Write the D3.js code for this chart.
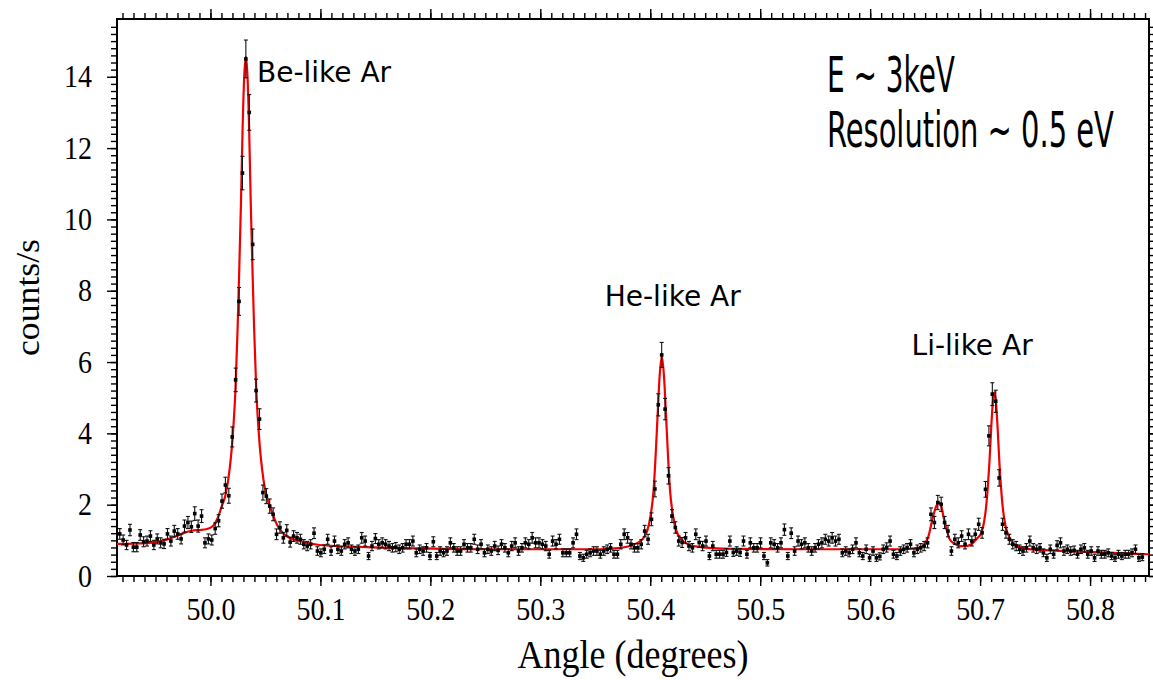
<!DOCTYPE html>
<html>
<head>
<meta charset="utf-8">
<script src="https://cdn.jsdelivr.net/npm/d3@7"></script>
<style>
  body { margin: 0; background: #fff; }
  svg { display: block; }
  .axis text { font-family: "Liberation Serif", "Times New Roman", serif; font-size: 28px; fill: #000; }
  .axis line { stroke: #000; stroke-width: 1.4; }
</style>
</head>
<body>
<script>
// scan grid (degrees)
var angleStart = 49.9175;
var angleStep = 0.0031;

// measured rate (counts/s), one value per scan step
var counts = [
  1.18, 1.01, 0.87, 1.29, 0.81, 0.81, 1.15, 0.96, 0.98, 1.12,
  0.87, 1.04, 0.93, 0.90, 1.18, 0.98, 1.26, 1.18, 1.04, 1.40,
  1.50, 1.38, 1.75, 1.40, 1.68, 0.93, 1.04, 1.01, 1.33, 1.55,
  2.10, 2.55, 2.25, 3.90, 5.50, 7.70, 11.30, 14.50, 13.00, 9.30,
  5.20, 4.40, 2.34, 2.24, 1.96, 1.73, 1.17, 1.36, 1.07, 1.28,
  0.95, 1.12, 1.07, 1.03, 0.89, 0.84, 0.89, 1.20, 0.70, 0.65,
  0.75, 1.03, 0.70, 0.98, 0.75, 0.70, 0.89, 0.93, 0.75, 0.70,
  0.75, 1.07, 0.98, 0.56, 0.84, 1.05, 0.89, 0.93, 0.89, 0.84,
  0.79, 0.81, 0.75, 0.79, 0.89, 0.89, 0.98, 0.65, 0.75, 0.70,
  0.79, 0.56, 0.96, 0.56, 0.70, 0.65, 0.70, 0.93, 0.79, 0.70,
  0.70, 0.89, 0.79, 0.79, 1.03, 0.75, 0.89, 0.65, 0.75, 0.70,
  0.84, 0.72, 0.89, 0.79, 0.65, 0.84, 0.93, 0.70, 0.79, 0.93,
  0.89, 1.07, 0.93, 0.93, 0.89, 0.84, 0.61, 0.98, 0.89, 1.03,
  0.65, 0.65, 0.65, 0.93, 1.17, 0.56, 0.51, 0.61, 0.65, 0.70,
  0.70, 0.61, 0.70, 0.75, 0.79, 0.61, 0.61, 0.89, 1.17, 1.07,
  0.89, 0.79, 0.79, 0.89, 1.26, 1.03, 1.59, 2.44, 4.80, 6.20,
  4.68, 2.81, 1.68, 1.36, 0.98, 0.94, 1.07, 0.84, 0.79, 1.17,
  0.94, 0.84, 0.98, 0.56, 0.84, 0.61, 0.61, 0.61, 0.66, 0.98,
  0.66, 0.70, 0.66, 0.98, 0.61, 0.93, 0.79, 0.79, 0.93, 0.56,
  0.37, 0.93, 0.89, 0.79, 0.93, 1.30, 0.56, 1.20, 0.70, 0.98,
  0.89, 0.93, 0.79, 0.70, 0.79, 0.89, 0.93, 1.03, 0.98, 1.07,
  0.98, 1.03, 0.65, 0.70, 0.65, 0.75, 0.93, 0.65, 0.56, 0.75,
  0.51, 0.70, 0.51, 0.55, 0.75, 0.80, 0.98, 0.61, 0.56, 0.70,
  0.75, 0.79, 0.89, 0.65, 0.75, 0.79, 0.84, 0.93, 1.73, 1.50,
  2.06, 2.01, 1.50, 1.26, 0.70, 1.03, 0.93, 1.12, 0.89, 1.17,
  0.98, 1.17, 1.45, 1.21, 2.43, 3.93, 5.10, 4.90, 2.75, 1.45,
  1.21, 1.03, 0.89, 0.84, 0.75, 0.70, 0.79, 0.98, 0.79, 0.75,
  0.79, 0.65, 0.51, 0.75, 0.61, 0.86, 0.93, 0.70, 0.75, 0.70,
  0.72, 0.61, 0.75, 0.79, 0.61, 0.70, 0.51, 0.70, 0.61, 0.61,
  0.65, 0.56, 0.51, 0.61, 0.56, 0.61, 0.61, 0.65, 0.75, 0.51,
  0.53
];

// half length of each error bar (counts/s)
var countErr = [
  .15, .14, .13, .16, .13, .13, .15, .14, .14, .15,
  .13, .14, .14, .13, .15, .14, .16, .15, .14, .17,
  .17, .16, .19, .17, .18, .14, .14, .14, .16, .17,
  .20, .22, .21, .28, .33, .39, .47, .53, .50, .43,
  .32, .29, .21, .21, .20, .18, .15, .16, .15, .16,
  .14, .15, .15, .14, .13, .13, .13, .15, .12, .11,
  .12, .14, .12, .14, .12, .12, .13, .14, .12, .12,
  .12, .15, .14, .10, .13, .14, .13, .14, .13, .13,
  .12, .13, .12, .12, .13, .13, .14, .11, .12, .12,
  .12, .10, .14, .10, .12, .11, .12, .14, .12, .12,
  .12, .13, .12, .12, .14, .12, .13, .11, .12, .12,
  .13, .12, .13, .12, .11, .13, .14, .12, .12, .14,
  .13, .15, .14, .14, .13, .13, .11, .14, .13, .14,
  .11, .11, .11, .14, .15, .10, .10, .11, .11, .12,
  .12, .11, .12, .12, .12, .11, .11, .13, .15, .15,
  .13, .12, .12, .13, .16, .14, .18, .22, .31, .35,
  .30, .23, .18, .16, .14, .14, .15, .13, .12, .15,
  .14, .13, .14, .10, .13, .11, .11, .11, .11, .14,
  .11, .12, .11, .14, .11, .14, .12, .12, .14, .10,
  .09, .14, .13, .12, .14, .16, .10, .15, .12, .14,
  .13, .14, .12, .12, .12, .13, .14, .14, .14, .15,
  .14, .14, .11, .12, .11, .12, .14, .11, .10, .12,
  .10, .12, .10, .10, .12, .13, .14, .11, .10, .12,
  .12, .12, .13, .11, .12, .12, .13, .14, .18, .17,
  .20, .20, .17, .16, .12, .14, .14, .15, .13, .15,
  .14, .15, .17, .15, .22, .28, .32, .31, .23, .17,
  .15, .14, .13, .13, .12, .12, .12, .14, .12, .12,
  .12, .11, .10, .12, .11, .13, .14, .12, .12, .12,
  .12, .11, .12, .12, .11, .12, .10, .12, .11, .11,
  .11, .10, .10, .11, .10, .11, .11, .11, .12, .10,
  .10
];

// fitted curve, sampled off the red line
var fitAngle = [
  49.9150, 49.9300, 49.9450, 49.9550, 49.9620, 49.9690, 49.9760, 49.9830, 49.9900, 49.9960,
  50.0025, 50.0065, 50.0100, 50.0135, 50.0162, 50.0202, 50.0227, 50.0247, 50.0262, 50.0277,
  50.0292, 50.0307, 50.0322, 50.0337, 50.0352, 50.0367, 50.0382, 50.0397, 50.0417, 50.0442,
  50.0482, 50.0512, 50.0556, 50.0602, 50.0692, 50.0812, 50.0992, 50.1420, 50.2020, 50.2630,
  50.3540, 50.3700, 50.3815, 50.3940, 50.4000, 50.4030, 50.4050, 50.4065, 50.4085, 50.4105,
  50.4125, 50.4145, 50.4160, 50.4180, 50.4210, 50.4270, 50.4395, 50.4750, 50.5360, 50.6268,
  50.6450, 50.6525, 50.6570, 50.6600, 50.6626, 50.6650, 50.6668, 50.6700, 50.6723, 50.6770,
  50.6814, 50.6870, 50.6920, 50.6970, 50.7010, 50.7035, 50.7055, 50.7070, 50.7085, 50.7100,
  50.7115, 50.7130, 50.7145, 50.7160, 50.7175, 50.7190, 50.7205, 50.7225, 50.7250, 50.7285,
  50.7340, 50.7420, 50.7783, 50.8100, 50.8536
];
var fitCounts = [
  0.90, 0.91, 0.93, 0.98, 1.04, 1.12, 1.21, 1.27, 1.29, 1.31,
  1.41, 1.62, 1.93, 2.25, 2.70, 3.90, 5.20, 6.95, 8.60, 10.40,
  12.50, 14.00, 14.56, 14.00, 12.50, 10.40, 8.60, 6.95, 5.20, 3.90,
  2.70, 2.22, 1.82, 1.46, 1.12, 0.98, 0.87, 0.81, 0.77, 0.75,
  0.75, 0.78, 0.84, 1.07, 1.64, 2.40, 3.45, 4.40, 5.60, 6.17,
  5.60, 4.40, 3.45, 2.40, 1.64, 1.07, 0.84, 0.76, 0.75, 0.75,
  0.80, 1.07, 1.64, 1.95, 2.06, 1.92, 1.64, 1.25, 1.03, 0.90,
  0.84, 0.84, 0.89, 1.05, 1.20, 1.50, 1.95, 2.50, 3.20, 4.10,
  4.85, 5.16, 4.85, 4.10, 3.20, 2.50, 1.95, 1.50, 1.20, 0.98,
  0.84, 0.76, 0.70, 0.66, 0.61
];

var xTickValues = [50.0, 50.1, 50.2, 50.3, 50.4, 50.5, 50.6, 50.7, 50.8];
var yTickValues = [0, 2, 4, 6, 8, 10, 12, 14];
var peakNames = ["Be-like Ar", "He-like Ar", "Li-like Ar"];
var infoLines = ["E ~ 3keV", "Resolution ~ 0.5 eV"];

var width = 1153, height = 680;
var plot = {left: 117, right: 1149, top: 19, bottom: 576};

var svg = d3.select("body").append("svg")
  .attr("width", width)
  .attr("height", height);

var x = d3.scaleLinear().domain([49.915, 50.8536]).range([plot.left, plot.right]);
var y = d3.scaleLinear().domain([0, 15.62]).range([plot.bottom, plot.top]);

var xMinor = d3.range(4992, 5086).map(function(d) { return d / 100; });
var yMinor = d3.range(0, 78).map(function(d) { return d / 5; });

function addAxis(axis, tx, ty) {
  var g = svg.append("g").attr("class", "axis")
    .attr("transform", "translate(" + tx + "," + ty + ")")
    .call(axis);
  g.select(".domain").remove();
  return g;
}

// bottom
addAxis(d3.axisBottom(x).tickValues(xMinor).tickSize(6).tickFormat(""), 0, plot.bottom);
addAxis(d3.axisBottom(x).tickValues(xTickValues).tickSize(10).tickPadding(9)
  .tickFormat(d3.format(".1f")), 0, plot.bottom)
  .selectAll("text").attr("transform", "scale(1,1.12)");
// top
addAxis(d3.axisTop(x).tickValues(xMinor).tickSize(6).tickFormat(""), 0, plot.top);
addAxis(d3.axisTop(x).tickValues(xTickValues).tickSize(10).tickFormat(""), 0, plot.top);
// left
addAxis(d3.axisLeft(y).tickValues(yMinor).tickSize(6).tickFormat(""), plot.left, 0);
addAxis(d3.axisLeft(y).tickValues(yTickValues).tickSize(10).tickPadding(15)
  .tickFormat(d3.format("d")), plot.left, 0)
  .selectAll("text").attr("transform", "scale(1,1.12)");
// right
addAxis(d3.axisRight(y).tickValues(yMinor).tickSize(6).tickFormat(""), plot.right, 0);
addAxis(d3.axisRight(y).tickValues(yTickValues).tickSize(10).tickFormat(""), plot.right, 0);

// frame
svg.append("rect")
  .attr("x", plot.left).attr("y", plot.top)
  .attr("width", plot.right - plot.left)
  .attr("height", plot.bottom - plot.top)
  .attr("fill", "none")
  .attr("stroke", "#000")
  .attr("stroke-width", 2);

// fit line
var fit = fitAngle.map(function(a, i) { return [a, fitCounts[i]]; });
svg.append("path")
  .datum(fit)
  .attr("fill", "none")
  .attr("stroke", "#f00000")
  .attr("stroke-width", 2.2)
  .attr("d", d3.line()
    .x(function(d) { return x(d[0]); })
    .y(function(d) { return y(d[1]); })
    .curve(d3.curveMonotoneX));

// data points with error bars
var scan = counts.map(function(c, i) {
  return {angle: angleStart + i * angleStep, c: c, e: countErr[i]};
});

var pts = svg.append("g").selectAll("g").data(scan).enter().append("g");

pts.append("line")
  .attr("x1", function(d) { return x(d.angle); })
  .attr("x2", function(d) { return x(d.angle); })
  .attr("y1", function(d) { return y(d.c - d.e); })
  .attr("y2", function(d) { return y(d.c + d.e); })
  .attr("stroke", "#111").attr("stroke-width", 1.1);

[-1, 1].forEach(function(s) {
  pts.append("line")
    .attr("x1", function(d) { return x(d.angle) - 2; })
    .attr("x2", function(d) { return x(d.angle) + 2; })
    .attr("y1", function(d) { return y(d.c + s * d.e); })
    .attr("y2", function(d) { return y(d.c + s * d.e); })
    .attr("stroke", "#111").attr("stroke-width", 1.1);
});

pts.append("rect")
  .attr("x", function(d) { return x(d.angle) - 1.8; })
  .attr("y", function(d) { return y(d.c) - 1.8; })
  .attr("width", 3.6).attr("height", 3.6)
  .attr("fill", "#000");

// axis titles, centred on their axes
svg.append("text")
  .attr("transform", "translate(" + ((plot.left + plot.right) / 2) + ",668) scale(1,1.1)")
  .attr("text-anchor", "middle")
  .style("font-family", "'Liberation Serif', 'Times New Roman', serif")
  .style("font-size", "36px")
  .text("Angle (degrees)");

svg.append("text")
  .attr("transform", "translate(39," + ((plot.top + plot.bottom) / 2) + ") rotate(-90) scale(1.05,1)")
  .attr("text-anchor", "middle")
  .style("font-family", "'Liberation Serif', 'Times New Roman', serif")
  .style("font-size", "34px")
  .text("counts/s");

// peak names, anchored next to each peak
var peakAnchors = [[50.0423, 13.86], [50.3586, 7.58], [50.6377, 6.20]];
svg.append("g").selectAll("text").data(peakNames).enter().append("text")
  .attr("x", function(d, i) { return x(peakAnchors[i][0]); })
  .attr("y", function(d, i) { return y(peakAnchors[i][1]); })
  .style("font-family", "'DejaVu Sans', Verdana, sans-serif")
  .style("font-size", "28px")
  .text(function(d) { return d; });

// beam / resolution note: narrow lettering, squeezed to the widths seen
var infoWidths = [128, 287];
svg.append("g").selectAll("text").data(infoLines).enter().append("text")
  .style("font-family", "'Liberation Sans Narrow', 'DejaVu Sans Condensed', 'Liberation Sans', sans-serif")
  .style("font-size", "40px")
  .text(function(d) { return d; })
  .attr("transform", function(d, i) {
    var w = this.getComputedTextLength();
    return "translate(827," + (92 + i * 55) + ") scale(" + (infoWidths[i] / w) + ",1.23)";
  });
</script>
</body>
</html>
